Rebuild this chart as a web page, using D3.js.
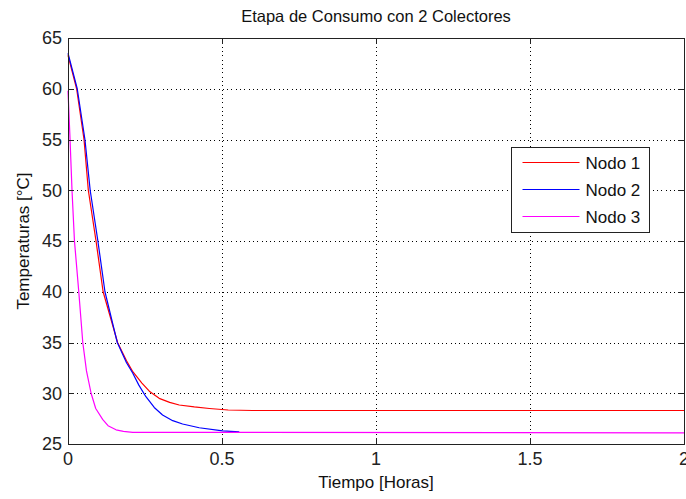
<!DOCTYPE html>
<html>
<head>
<meta charset="utf-8">
<script src="https://cdn.jsdelivr.net/npm/d3@7"></script>
<style>
    body { margin: 0; background: #fff; }
    svg { display: block; font-family: "Liberation Sans", Arial, sans-serif; }
    .grid line { stroke: #000; stroke-dasharray: 1,3.3; shape-rendering: crispEdges; }
    .frame { fill: none; stroke: #222; shape-rendering: crispEdges; }
    .tick-mark { stroke: #222; shape-rendering: crispEdges; }
</style>
</head>
<body>
<svg id="chart" width="686" height="499"></svg>
<script>
// Series: time in hours, temperature in degC
const nodo1T = [0, 0.028, 0.052, 0.066, 0.091, 0.114, 0.161, 0.19, 0.211, 0.24, 0.264, 0.296, 0.33, 0.361, 0.41, 0.459, 0.52, 0.6, 2.0];
const nodo1V = [63.3, 60, 55, 50, 45, 40, 35, 33.2, 32.1, 31.0, 30.2, 29.5, 29.1, 28.84, 28.65, 28.5, 28.35, 28.3, 28.3];

const nodo2T = [0, 0.03, 0.055, 0.072, 0.097, 0.12, 0.16, 0.19, 0.21, 0.23, 0.253, 0.28, 0.307, 0.34, 0.372, 0.426, 0.502, 0.556];
const nodo2V = [63.5, 60, 55, 50, 45, 40, 35, 33.0, 32.0, 30.8, 29.66, 28.6, 27.86, 27.3, 26.97, 26.6, 26.3, 26.2];

const nodo3T = [0, 0.006, 0.013, 0.021, 0.035, 0.048, 0.06, 0.075, 0.09, 0.113, 0.13, 0.156, 0.18, 0.21, 2.0];
const nodo3V = [59.8, 55.5, 50, 45, 40, 35, 32.2, 30, 28.5, 27.4, 26.8, 26.4, 26.25, 26.15, 26.1];

const seriesNames = ["Nodo 1", "Nodo 2", "Nodo 3"];
const seriesColors = ["#ff0000", "#0000ff", "#ff00ff"];

const xTicks = [0, 0.5, 1, 1.5, 2];
const yTicks = [25, 30, 35, 40, 45, 50, 55, 60, 65];

const titleText = "Etapa de Consumo con 2 Colectores";
const xLabelText = "Tiempo [Horas]";
const yLabelText = "Temperaturas [°C]";

const svg = d3.select("#chart");
const margin = { left: 68, top: 38, right: 2, bottom: 55 };
const width = 686, height = 499;
const plotW = width - margin.left - margin.right;
const plotH = height - margin.top - margin.bottom;

const x = d3.scaleLinear().domain([0, 2]).range([margin.left, margin.left + plotW]);
const y = d3.scaleLinear().domain([25, 65]).range([margin.top + plotH, margin.top]);

// Grid (dotted, interior ticks only)
const grid = svg.append("g").attr("class", "grid");
grid.selectAll(".gx")
    .data(xTicks.slice(1, -1))
    .enter().append("line")
    .attr("x1", d => Math.round(x(d)) + 0.5).attr("x2", d => Math.round(x(d)) + 0.5)
    .attr("y1", y(65)).attr("y2", y(25));
grid.selectAll(".gy")
    .data(yTicks.slice(1, -1))
    .enter().append("line")
    .attr("y1", d => Math.round(y(d)) + 0.5).attr("y2", d => Math.round(y(d)) + 0.5)
    .attr("x1", x(0)).attr("x2", x(2));

// Curves
const series = [
    { t: nodo1T, v: nodo1V },
    { t: nodo2T, v: nodo2V },
    { t: nodo3T, v: nodo3V }
];
const line = d3.line().x(d => x(d[0])).y(d => y(d[1]));

svg.append("g").selectAll("path")
    .data(series)
    .enter().append("path")
    .attr("d", s => line(s.t.map((t, i) => [t, s.v[i]])))
    .attr("fill", "none")
    .attr("stroke", (s, i) => seriesColors[i])
    .attr("stroke-width", 1.2)
    .attr("stroke-linejoin", "round");

// Frame and inward ticks on all four sides
svg.append("rect")
    .attr("class", "frame")
    .attr("x", x(0) + 0.5).attr("y", y(65) + 0.5)
    .attr("width", x(2) - x(0)).attr("height", y(25) - y(65));

const tickLen = 6;
const ticks = svg.append("g");
xTicks.forEach(d => {
    const px = Math.round(x(d)) + 0.5;
    ticks.append("line").attr("class", "tick-mark")
        .attr("x1", px).attr("x2", px).attr("y1", y(25)).attr("y2", y(25) - tickLen);
    ticks.append("line").attr("class", "tick-mark")
        .attr("x1", px).attr("x2", px).attr("y1", y(65)).attr("y2", y(65) + tickLen);
});
yTicks.forEach(d => {
    const py = Math.round(y(d)) + 0.5;
    ticks.append("line").attr("class", "tick-mark")
        .attr("x1", x(0)).attr("x2", x(0) + tickLen).attr("y1", py).attr("y2", py);
    ticks.append("line").attr("class", "tick-mark")
        .attr("x1", x(2)).attr("x2", x(2) - tickLen).attr("y1", py).attr("y2", py);
});

// Tick labels
svg.append("g").selectAll("text")
    .data(xTicks)
    .enter().append("text")
    .attr("x", d => x(d))
    .attr("y", y(25) + 21)
    .attr("text-anchor", "middle")
    .attr("font-size", 18)
    .attr("fill", "#222")
    .text(d => d3.format("~g")(d));

svg.append("g").selectAll("text")
    .data(yTicks)
    .enter().append("text")
    .attr("x", x(0) - 6)
    .attr("y", d => y(d))
    .attr("dy", "0.36em")
    .attr("text-anchor", "end")
    .attr("font-size", 18)
    .attr("fill", "#222")
    .text(d => d);

// Title and axis labels
svg.append("text")
    .attr("x", (x(0) + x(2)) / 2).attr("y", 22)
    .attr("text-anchor", "middle")
    .attr("font-size", 16.5)
    .attr("fill", "#111")
    .text(titleText);

svg.append("text")
    .attr("x", (x(0) + x(2)) / 2).attr("y", 488)
    .attr("text-anchor", "middle")
    .attr("font-size", 17)
    .attr("fill", "#111")
    .text(xLabelText);

svg.append("text")
    .attr("transform", `translate(29,${(y(25) + y(65)) / 2}) rotate(-90)`)
    .attr("text-anchor", "middle")
    .attr("font-size", 17)
    .attr("fill", "#111")
    .text(yLabelText);

// Legend
const legend = svg.append("g").attr("transform", "translate(511.5,147.5)");
legend.append("rect")
    .attr("width", 138).attr("height", 85)
    .attr("fill", "#fff").attr("stroke", "#222")
    .attr("shape-rendering", "crispEdges");
const rows = legend.selectAll(".row")
    .data(seriesNames)
    .enter().append("g")
    .attr("transform", (d, i) => `translate(0,${15 + i * 27})`);
rows.append("line")
    .attr("x1", 11).attr("x2", 68)
    .attr("stroke", (d, i) => seriesColors[i])
    .attr("stroke-width", 1.2);
rows.append("text")
    .attr("x", 74).attr("dy", "0.36em")
    .attr("font-size", 17)
    .attr("fill", "#111")
    .text(d => d);
</script>
</body>
</html>
